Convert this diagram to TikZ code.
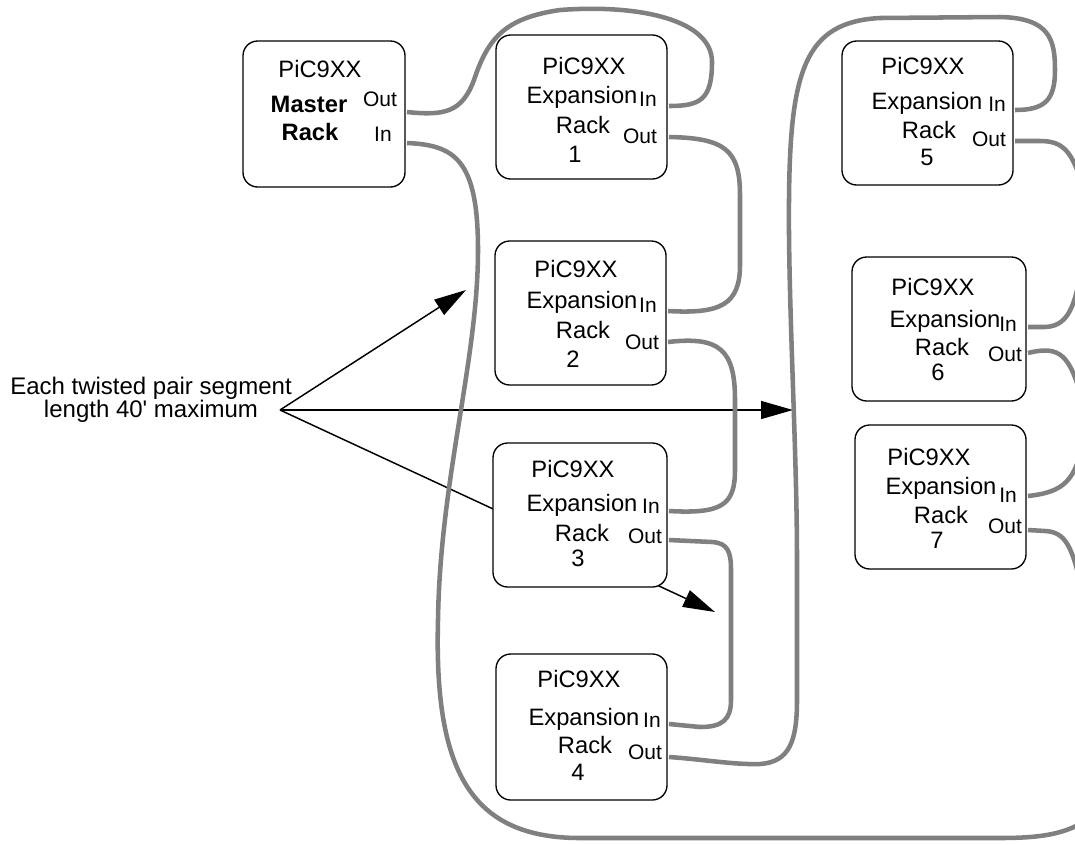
\documentclass[tikz,border=0pt]{standalone}
\usepackage{fontspec}
\setmainfont{Liberation Sans}[Ligatures=TeXOff]
\usetikzlibrary{fit,arrows.meta}
\definecolor{cablegray}{RGB}{128,128,128}
\tikzset{
  rackbox/.style={draw=black, line width=1pt, rounded corners=11pt, fill=white, inner sep=0pt},
  txt/.style={font=\fontsize{17.8}{20}\selectfont, inner sep=0pt, anchor=base},
  port/.style={font=\fontsize{15.75}{18}\selectfont, inner sep=0pt, anchor=base},
  lbl/.style={font=\fontsize{18}{20}\selectfont, inner sep=0pt, anchor=base},
  cable/.style={draw=cablegray, line width=3.4pt},
  pointer/.style={draw=black, line width=1.1pt, -{Triangle[length=24pt,width=13.5pt]}}
}
\begin{document}
\begin{tikzpicture}[x=0.75pt,y=-0.75pt]
\useasboundingbox (0,0) rectangle (1075,844);

% label and pointers
\node[lbl] (lbl1) at (151,394) {Each twisted pair segment};
\node[lbl] (lbl2) at (151,417) {length 40' maximum};
\coordinate (src) at (280,410);
\coordinate (t1) at (466,290);
\coordinate (t2) at (793,410);
\coordinate (t3) at (715,612);
\draw[pointer] (src) -- (t1);
\draw[pointer] (src) -- (t2);
\draw[pointer] (src) -- (t3);

% boxes
\node[rackbox, fit={(243,41) (405,187)}] (m) {};
\node[rackbox, fit={(496,35) (667,179)}] (e1) {};
\node[rackbox, fit={(495,241) (666,385)}] (e2) {};
\node[rackbox, fit={(493,443) (667,587)}] (e3) {};
\node[rackbox, fit={(496,654) (667,800)}] (e4) {};
\node[rackbox, fit={(842,41) (1013,185)}] (e5) {};
\node[rackbox, fit={(852,257) (1026,401)}] (e6) {};
\node[rackbox, fit={(855,425) (1026,569)}] (e7) {};

% master text
\node[txt] (mt1) at (320,77) {PiC9XX};
\node[txt] (mt2) at (309,112) {\bfseries Master};
\node[txt] (mt3) at (310,140) {\bfseries Rack};
\node[port] (mto) at (380,106) {Out};
\node[port] (mti) at (383,141) {In};

% expansion 1
\node[txt] (a1) at (584,74) {PiC9XX};
\node[txt] (a2) at (582,103) {Expansion};
\node[port] (a3) at (648,106) {In};
\node[txt] (a4) at (583,133) {Rack};
\node[port] (a5) at (640,143) {Out};
\node[txt] (a6) at (575,162) {1};

% expansion 2
\node[txt] (b1) at (576,277) {PiC9XX};
\node[txt] (b2) at (582,308) {Expansion};
\node[port] (b3) at (648,312) {In};
\node[txt] (b4) at (583,338) {Rack};
\node[port] (b5) at (642,349) {Out};
\node[txt] (b6) at (573,367) {2};

% expansion 3
\node[txt] (c1) at (573,477) {PiC9XX};
\node[txt] (c2) at (582,511) {Expansion};
\node[port] (c3) at (651,513) {In};
\node[txt] (c4) at (582,541) {Rack};
\node[port] (c5) at (645,543) {Out};
\node[txt] (c6) at (578,566) {3};

% expansion 4
\node[txt] (d1) at (579,687) {PiC9XX};
\node[txt] (d2) at (584,725) {Expansion};
\node[port] (d3) at (652,727) {In};
\node[txt] (d4) at (585,753) {Rack};
\node[port] (d5) at (645,759) {Out};
\node[txt] (d6) at (578,780) {4};

% expansion 5
\node[txt] (f1) at (923,74) {PiC9XX};
\node[txt] (f2) at (927,109) {Expansion};
\node[port] (f3) at (997,111) {In};
\node[txt] (f4) at (929,138) {Rack};
\node[port] (f5) at (989,146) {Out};
\node[txt] (f6) at (927,165) {5};

% expansion 6
\node[txt] (g1) at (933,295) {PiC9XX};
\node[txt] (g2) at (945,327) {Expansion};
\node[port] (g3) at (1008,331) {In};
\node[txt] (g4) at (942,355) {Rack};
\node[port] (g5) at (1005,361) {Out};
\node[txt] (g6) at (938,380) {6};

% expansion 7
\node[txt] (h1) at (929,465) {PiC9XX};
\node[txt] (h2) at (941,494) {Expansion};
\node[port] (h3) at (1008,502) {In};
\node[txt] (h4) at (941,523) {Rack};
\node[port] (h5) at (1005,533) {Out};
\node[txt] (h6) at (937,548) {7};

% ports
\coordinate (mOut) at (407,112);
\coordinate (mIn) at (407,143);
\coordinate (e1In) at (669,106);
\coordinate (e1Out) at (669,137);
\coordinate (e2In) at (668,311);
\coordinate (e2Out) at (668,342);
\coordinate (e3In) at (669,511);
\coordinate (e3Out) at (669,540);
\coordinate (e4In) at (669,724);
\coordinate (e4Out) at (669,757);
\coordinate (e5In) at (1015,110);
\coordinate (e5Out) at (1015,141);
\coordinate (e6In) at (1028,327);
\coordinate (e6Out) at (1028,353);
\coordinate (e7In) at (1028,496);
\coordinate (e7Out) at (1028,530);
\coordinate (x5) at (1082,185);
\coordinate (x6a) at (1085,250);
\coordinate (x6b) at (1082,400);
\coordinate (x7a) at (1084,440);
\coordinate (x7b) at (1082,590);
\coordinate (xb) at (1095,815);

% cables
\begin{scope}
\clip (0,0) rectangle (1075,844);
\draw[cable] (mOut) .. controls (445,116) and (462,112) .. (474,80)
  .. controls (488,38) and (505,18) .. (560,10)
  .. controls (640,4) and (712,20) .. (712,62)
  .. controls (712,100) and (700,106) .. (e1In);
\draw[cable] (mIn) .. controls (455,145) and (478,160) .. (478,250)
  .. controls (478,360) and (440,480) .. (438,620)
  .. controls (434,770) and (470,838) .. (580,838)
  -- (1000,838) .. controls (1050,838) and (1070,832) .. (xb);
\draw[cable] (e1Out) .. controls (725,138) and (740,150) .. (740,195)
  -- (740,265) .. controls (740,305) and (720,314) .. (e2In);
\draw[cable] (e2Out) .. controls (720,336) and (735,350) .. (735,400)
  -- (735,470) .. controls (735,505) and (722,514) .. (e3In);
\draw[cable] (e3Out) -- (712,542) .. controls (728,543) and (731,552) .. (731,570)
  -- (731,700) .. controls (731,720) and (722,727) .. (700,727) -- (e4In);
\draw[cable] (e4Out) .. controls (700,759) and (735,765) .. (760,764)
  .. controls (790,762) and (797,740) .. (797,700)
  -- (797,560) .. controls (797,450) and (788,300) .. (789,200)
  .. controls (790,70) and (805,22) .. (880,18)
  -- (1000,17) .. controls (1050,18) and (1055,40) .. (1055,70)
  .. controls (1055,100) and (1045,110) .. (e5In);
\draw[cable] (e5Out) -- (1040,141) .. controls (1062,141) and (1072,150) .. (x5);
\draw[cable] (x6a) .. controls (1076,300) and (1072,326) .. (1045,327) -- (e6In);
\draw[cable] (e6Out) .. controls (1060,345) and (1070,355) .. (x6b);
\draw[cable] (x7a) .. controls (1075,480) and (1065,492) .. (e7In);
\draw[cable] (e7Out) -- (1045,531) .. controls (1065,532) and (1072,545) .. (x7b);
\end{scope}
\end{tikzpicture}
\end{document}
